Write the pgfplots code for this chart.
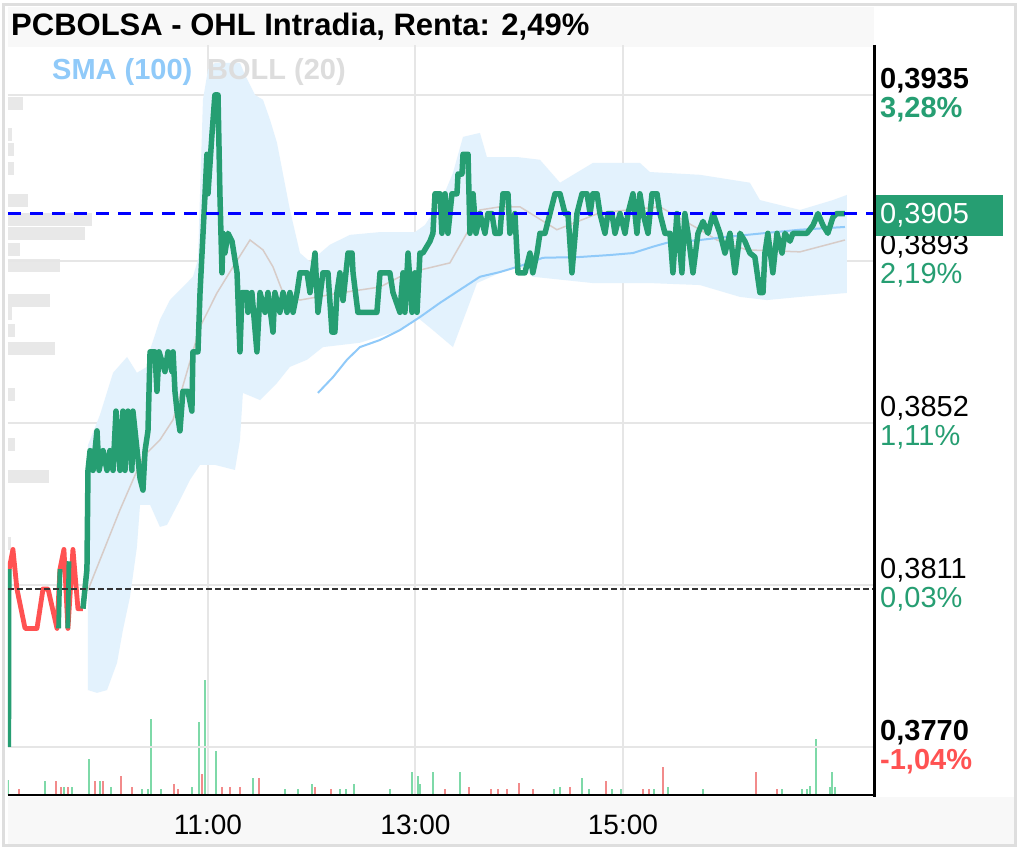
\documentclass[border=0pt]{standalone}
\usepackage{fontspec}
\setmainfont{Liberation Sans}
\usepackage{pgfplots}
\usepackage{pgfplotstable}
\pgfplotsset{compat=1.18}
\definecolor{pgreen}{HTML}{269E72}
\definecolor{pred}{HTML}{FF5252}
\definecolor{bandfill}{HTML}{E3F2FD}
\definecolor{midline}{HTML}{D7CCC8}
\definecolor{smacol}{HTML}{90CAF9}
\definecolor{bollgray}{HTML}{DDDDDD}
\definecolor{gridc}{HTML}{E6E6E6}
\definecolor{profc}{HTML}{E8E8E8}
\definecolor{volg}{HTML}{7ED9A8}
\definecolor{volr}{HTML}{F28B8B}
\definecolor{bandbg}{HTML}{F8F8F8}
\definecolor{framec}{HTML}{DEDEDE}
\newcommand{\fs}[1]{\fontsize{#1}{#1}\selectfont}

% price line (minutes since 9:00, price)
\pgfplotstableread{
x y
47.7 0.3805
50.0 0.3815
50.6 0.3840
51.8 0.3845
53.5 0.3840
55.8 0.3850
57.0 0.3840
59.3 0.3845
61.6 0.3840
63.3 0.3845
65.1 0.3840
66.8 0.3855
69.1 0.3840
70.8 0.3855
72.0 0.3840
73.7 0.3855
76.0 0.3840
76.6 0.3855
80.7 0.3838
82.4 0.3835
83.6 0.3845
85.3 0.3850
86.5 0.3870
89.3 0.3870
90.5 0.3860
91.7 0.3870
95.1 0.3865
96.9 0.3870
99.2 0.3865
99.8 0.3870
100.9 0.3860
102.1 0.3855
103.8 0.3850
105.5 0.3860
108.4 0.3860
110.7 0.3855
111.3 0.3870
114.2 0.3870
115.4 0.3885
118.3 0.3910
119.4 0.3920
120.0 0.3910
122.3 0.3925
124.0 0.3935
125.8 0.3935
126.9 0.3910
128.1 0.3890
128.7 0.3900
129.8 0.3895
131.6 0.3900
133.9 0.3898
136.8 0.3890
138.5 0.3870
139.7 0.3885
142.6 0.3885
143.1 0.3880
145.4 0.3885
148.3 0.3870
150.1 0.3885
153.0 0.3880
154.7 0.3885
157.6 0.3875
158.7 0.3885
161.6 0.3880
163.4 0.3885
165.7 0.3880
167.4 0.3885
169.2 0.3880
171.5 0.3885
173.2 0.3890
177.3 0.3890
179.0 0.3885
181.9 0.3895
183.6 0.3880
186.5 0.3890
189.4 0.3890
191.7 0.3875
193.4 0.3875
194.6 0.3885
196.3 0.3890
198.1 0.3883
201.0 0.3895
203.3 0.3895
203.9 0.3890
206.7 0.3880
217.7 0.3880
219.5 0.3890
225.2 0.3890
227.0 0.3885
231.0 0.3880
232.8 0.3890
233.9 0.3880
235.7 0.3895
238.0 0.3880
239.7 0.3890
240.9 0.3880
242.6 0.3895
244.3 0.3895
248.4 0.3898
250.1 0.3900
251.3 0.3910
254.2 0.3910
255.3 0.3900
257.1 0.3910
258.8 0.3900
261.1 0.3910
264.0 0.3910
264.6 0.3915
266.9 0.3915
267.5 0.3920
270.4 0.3920
271.5 0.3900
273.3 0.3910
275.0 0.3900
277.3 0.3905
280.2 0.3900
281.9 0.3905
284.2 0.3905
286.0 0.3900
288.9 0.3900
290.6 0.3910
293.5 0.3910
294.6 0.3900
297.5 0.3905
299.3 0.3890
303.3 0.3890
306.2 0.3895
307.9 0.3890
310.3 0.3895
312.0 0.3900
314.9 0.3900
317.8 0.3905
320.7 0.3910
323.6 0.3910
326.5 0.3905
328.2 0.3905
330.5 0.3890
333.4 0.3905
336.3 0.3910
339.2 0.3910
341.0 0.3905
342.6 0.3910
345.0 0.3910
346.7 0.3905
349.6 0.3900
351.3 0.3905
353.6 0.3905
355.4 0.3900
358.3 0.3905
361.2 0.3900
362.9 0.3905
365.8 0.3910
368.1 0.3900
369.8 0.3910
371.6 0.3905
374.5 0.3900
376.8 0.3910
379.7 0.3910
381.4 0.3905
384.3 0.3900
387.2 0.3900
388.9 0.3890
391.2 0.3905
394.1 0.3890
395.8 0.3905
397.6 0.3900
400.5 0.3890
403.4 0.3900
406.3 0.3903
409.2 0.3900
412.1 0.3905
416.1 0.3900
419.0 0.3895
421.9 0.3900
424.8 0.3890
427.7 0.3900
430.5 0.3898
433.4 0.3895
436.3 0.3894
439.2 0.3885
441.0 0.3885
442.1 0.3895
443.8 0.3900
446.7 0.3890
449.1 0.3900
452.0 0.3895
453.7 0.3900
456.6 0.3898
458.3 0.3900
466.4 0.3900
469.9 0.3902
472.8 0.3905
475.7 0.3902
478.5 0.3900
481.4 0.3904
483.7 0.3905
488.4 0.3905
}\pricegreen

\pgfplotstableread{
x y
5.0 0.3815
7.2 0.3820
9.5 0.3810
14.2 0.3800
21.1 0.3800
24.6 0.3810
27.5 0.3810
32.7 0.3800
34.4 0.3815
36.7 0.3820
39.0 0.3800
41.9 0.3820
44.8 0.3805
47.7 0.3805
}\pricered

% Bollinger band: upper band forward, then lower band backward
\pgfplotstableread{
x y
50.6 0.38464
57.5 0.38540
65.1 0.38647
73.2 0.38687
78.9 0.38647
84.7 0.38662
86.5 0.38705
92.2 0.38781
98.0 0.38831
111.3 0.38890
114.2 0.38933
117.1 0.39338
120.0 0.39414
124.0 0.39431
138.5 0.39431
141.4 0.39401
147.2 0.39350
151.8 0.39338
155.9 0.39287
159.9 0.39229
167.4 0.39059
173.2 0.38950
179.0 0.38928
190.5 0.38971
202.1 0.38996
219.5 0.39003
239.7 0.39003
245.5 0.39021
255.9 0.39092
261.7 0.39153
267.5 0.39244
277.3 0.39254
281.3 0.39193
298.7 0.39193
312.0 0.39186
323.6 0.39128
342.6 0.39178
369.8 0.39178
375.6 0.39155
404.5 0.39148
433.4 0.39128
439.2 0.39084
462.4 0.39059
481.4 0.39084
489.5 0.39097
489.5 0.38849
462.4 0.38839
443.3 0.38831
427.7 0.38839
404.5 0.38869
375.6 0.38874
342.6 0.38874
307.9 0.38890
300.4 0.38915
288.9 0.38900
275.6 0.38874
269.8 0.38806
261.7 0.38712
250.1 0.38755
240.9 0.38788
231.0 0.38755
207.9 0.38723
186.5 0.38712
177.3 0.38680
167.4 0.38662
159.9 0.38621
150.1 0.38578
140.2 0.38596
138.5 0.38477
135.6 0.38401
124.0 0.38414
115.4 0.38414
109.6 0.38376
103.8 0.38325
96.3 0.38262
92.2 0.38257
86.5 0.38313
80.7 0.38313
78.9 0.38206
74.9 0.38080
70.8 0.37996
67.4 0.37913
61.6 0.37844
55.8 0.37837
50.6 0.37844
}\bollband

\pgfplotstableread{
x y
50.6 0.38097
57.5 0.38173
69.1 0.38300
82.4 0.38434
92.2 0.38477
99.8 0.38528
115.4 0.38763
125.2 0.38849
134.5 0.38915
144.3 0.38983
151.8 0.38958
157.6 0.38915
163.4 0.38849
173.2 0.38831
196.3 0.38849
219.5 0.38864
231.0 0.38890
242.6 0.38907
259.9 0.38925
267.5 0.38983
277.3 0.39059
288.9 0.39067
300.4 0.39067
321.8 0.39009
346.7 0.39052
381.4 0.39067
404.5 0.39009
414.3 0.38983
431.7 0.38958
462.4 0.38953
488.4 0.38983
}\bollmid

\pgfplotstableread{
x y
183.6 0.38596
192.3 0.38636
200.4 0.38680
207.9 0.38712
219.5 0.38730
231.0 0.38755
242.6 0.38788
254.2 0.38824
265.7 0.38857
277.3 0.38890
288.9 0.38902
300.4 0.38917
313.7 0.38938
335.1 0.38940
352.5 0.38945
365.8 0.38950
377.3 0.38966
385.4 0.38976
404.5 0.38983
420.1 0.38991
443.3 0.39001
462.4 0.39009
488.4 0.39016
}\smahundred

% volume (minutes, relative volume)
\pgfplotstableread{
x v
4.3 15
25.7 14
36.7 8
41.3 8
51.2 36
57.5 14
63.9 8
81.8 6
85.3 6
87.0 76
92.8 6
110.7 8
114.8 73
118.3 115
120.0 26
124.6 44
146.0 17
164.5 6
172.0 6
180.1 11
196.3 6
199.8 6
204.4 11
225.2 6
238.0 23
241.4 19
242.6 11
250.1 23
265.7 23
320.1 6
323.5 8
336.3 17
340.3 6
353.6 6
358.8 6
377.9 6
386.0 8
406.3 6
451.9 6
463.5 6
466.4 6
468.1 9
471.6 56
479.7 8
480.9 23
482.6 8
}\volup

\pgfplotstableread{
x v
10.7 6
32.1 14
35.0 8
39.0 8
54.6 14
59.3 14
69.7 19
76.1 8
100.3 11
102.6 6
116.5 21
128.1 8
132.7 8
138.5 8
149.5 17
181.9 8
191.1 6
239.7 8
257.1 6
270.9 8
283.7 6
287.7 6
292.9 6
299.9 12
307.9 6
329.3 8
350.2 14
371.6 6
375.0 6
383.1 28
436.9 23
449.1 6
}\voldown

% volume by price (length, price)
\pgfplotstableread{
len p
15 0.39329
4 0.39249
6 0.39211
6 0.39164
20 0.39084
84 0.39036
77 0.39000
12 0.38958
52 0.38919
42 0.38831
4 0.38796
7 0.38755
47 0.38709
7 0.38591
7 0.38466
41 0.38385
3 0.38216
3 0.38006
}\profile

\pgfplotsset{base/.style={at={(8pt,56pt)}, anchor=south west,
  width=866pt, height=750pt, scale only axis}}

\begin{document}
\begin{tikzpicture}
\path[use as bounding box] (0pt,0pt) rectangle (1017pt,851pt);
\fill[white] (0pt,0pt) rectangle (1017pt,851pt);
\fill[bandbg] (8pt,804pt) rectangle (874pt,844pt);
\fill[bandbg] (8pt,5pt) rectangle (1014pt,54pt);
\draw[framec, line width=3pt] (3pt,5pt) rectangle (1015pt,846pt);

% volume profile
\begin{axis}[base, hide axis, xmin=0, xmax=866, ymin=0.375785, ymax=0.394765]
\addplot[xcomb, profc, line width=13pt, mark=none] table[x=len, y=p] {\profile};
\end{axis}

% volume
\begin{axis}[base, hide axis, xmin=4.34, xmax=505.2, ymin=0, ymax=750]
\addplot[ycomb, volg, line width=2pt, mark=none] table[x=x, y=v] {\volup};
\addplot[ycomb, volr, line width=2pt, mark=none] table[x=x, y=v] {\voldown};
\end{axis}

% price
\begin{axis}[base, xmin=4.34, xmax=505.2, ymin=0.375785, ymax=0.394765,
  axis line style={draw=none}, scaled ticks=false,
  xtick={120,240,360}, xticklabels={11:00,13:00,15:00},
  ytick={0.3770,0.3811,0.3852,0.3893,0.3935},
  yticklabels={
    {\textbf{0,3770}\\\textcolor{pred}{\textbf{-1,04\%}}},
    {0,3811\\\textcolor{pgreen}{0,03\%}},
    {0,3852\\\textcolor{pgreen}{1,11\%}},
    {0,3893\\\textcolor{pgreen}{2,19\%}},
    {\textbf{0,3935}\\\textcolor{pgreen}{\textbf{3,28\%}}}},
  yticklabel pos=right,
  major tick length=0pt,
  grid=major, grid style={gridc, line width=2pt},
  xticklabel style={font=\fs{28}, inner sep=0pt, yshift=-20pt},
  yticklabel style={font=\fs{29}, inner sep=0pt, anchor=west, align=left, xshift=6pt},
]
\addplot[fill=bandfill, draw=none] table[x=x,y=y] {\bollband};
\addplot[midline, line width=1.5pt] table[x=x,y=y] {\bollmid};
\addplot[smacol, line width=2pt] table[x=x,y=y] {\smahundred};
\addplot[pred, line width=4.8pt, line join=round] table[x=x,y=y] {\pricered};
\addplot[pgreen, line width=4.8pt] coordinates {(4.8,0.3770) (5.0,0.3815)};
\addplot[pgreen, line width=4.8pt] coordinates {(33.6,0.3800) (34.4,0.3815)};
\addplot[pgreen, line width=4.8pt] coordinates {(38.9,0.3800) (39.6,0.3817)};
\addplot[pgreen, line width=5.5pt, line join=round] table[x=x,y=y] {\pricegreen};
\addplot[black!80, line width=1.8pt, dash pattern=on 6pt off 3pt] coordinates {(4.34,0.3810) (505.2,0.3810)};
\addplot[blue, line width=2.5pt, dash pattern=on 13pt off 9pt] coordinates {(4.34,0.3905) (505.2,0.3905)};
\end{axis}

\draw[black, line width=2.5pt] (874.5pt,806pt) -- (874.5pt,54pt);
\draw[black, line width=2.5pt] (8pt,56pt) -- (875.5pt,56pt);

\fill[pgreen] (876pt,615pt) rectangle (1003pt,656pt);
\node[anchor=west, inner sep=0pt, text=white, font=\fs{29}] at (880pt,635.5pt) {0,3905};

\node[anchor=west, inner sep=0pt, font=\fs{31}\bfseries] at (11pt,824pt) {PCBOLSA - OHL Intradia, Renta: 2,49\%};
\node[anchor=west, inner sep=0pt, font=\fs{29}\bfseries, text=smacol] at (52pt,779pt) {SMA (100)};
\node[anchor=west, inner sep=0pt, font=\fs{29}\bfseries, text=bollgray] at (207pt,779pt) {BOLL (20)};
\end{tikzpicture}
\end{document}
